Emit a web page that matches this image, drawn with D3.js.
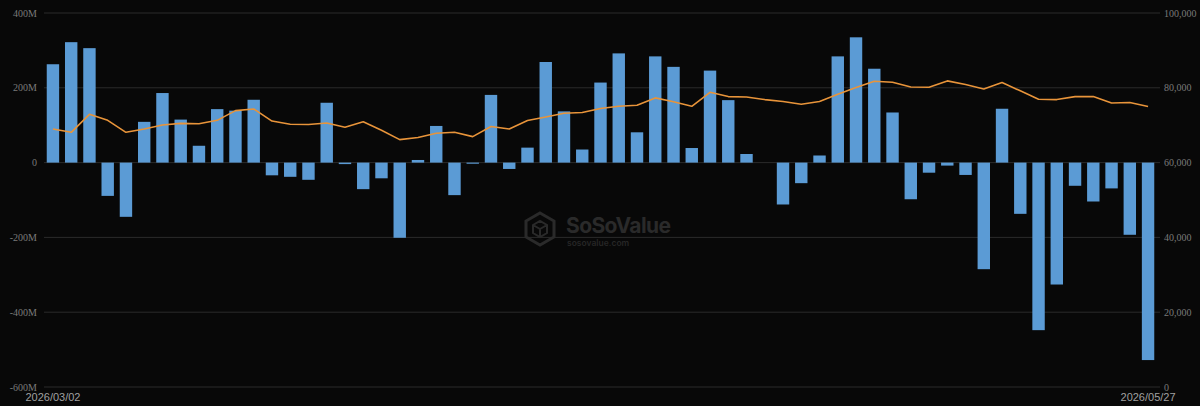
<!DOCTYPE html>
<html><head><meta charset="utf-8">
<script src="https://cdn.jsdelivr.net/npm/d3@7"></script>
<style>
html,body{margin:0;padding:0;background:#080808;}
svg{display:block;}
</style></head>
<body>
<svg id="chart" width="1200" height="406"></svg>
<script>
const dates = ["2026/03/02","2026/03/03","2026/03/04","2026/03/05","2026/03/06","2026/03/09","2026/03/10","2026/03/11","2026/03/12","2026/03/13","2026/03/16","2026/03/17","2026/03/18","2026/03/19","2026/03/20","2026/03/23","2026/03/24","2026/03/25","2026/03/26","2026/03/27","2026/03/30","2026/03/31","2026/04/01","2026/04/02","2026/04/06","2026/04/07","2026/04/08","2026/04/09","2026/04/10","2026/04/13","2026/04/14","2026/04/15","2026/04/16","2026/04/17","2026/04/20","2026/04/21","2026/04/22","2026/04/23","2026/04/24","2026/04/27","2026/04/28","2026/04/29","2026/04/30","2026/05/01","2026/05/04","2026/05/05","2026/05/06","2026/05/07","2026/05/08","2026/05/11","2026/05/12","2026/05/13","2026/05/14","2026/05/15","2026/05/18","2026/05/19","2026/05/20","2026/05/21","2026/05/22","2026/05/26","2026/05/27"];
// daily net inflow (USD millions)
const netInflow = [263,322,306,-89,-145,109,186,115,45,143,139,168,-34,-38,-46,160,-4,-71,-42,-201,7,98,-87,-3,181,-17,40,269,137,35,214,292,81,284,256,39,246,167,23,0,-112,-55,19,284,335,251,134,-98,-27,-8,-33,-285,144,-137,-448,-326,-62,-104,-69,-193,-528];
// BTC price (USD)
const btcPrice = [69000,68100,72900,71300,68100,69000,70070,70500,70400,71300,73900,74350,71100,70250,70170,70600,69450,70900,68650,66150,66700,67850,68100,66950,69650,69000,71250,72200,73200,73400,74450,75050,75350,77300,76250,75050,78800,77650,77550,76850,76350,75600,76350,78300,80100,81750,81500,80200,80150,81850,80880,79700,81400,79200,76950,76850,77650,77650,75950,76050,75000];
const leftTicks = [400,200,0,-200,-400,-600];
const rightTicks = [100000,80000,60000,40000,20000,0];
const dateLabels = ["2026/03/02","2026/05/27"];

(function () {
const svg = d3.select("#chart");
const W = 1200, H = 406;
const plotL = 44, plotR = 1160, plotTop = 13, plotBottom = 387;

const x = d3.scaleBand().domain(dates).range([plotL, 1157]).paddingInner(0.32).paddingOuter(0.15);
const yL = d3.scaleLinear().domain([-600, 400]).range([plotBottom, plotTop]);
const yR = d3.scaleLinear().domain([0, 100000]).range([plotBottom, plotTop]);

svg.append("rect").attr("width", W).attr("height", H).attr("fill", "#080808");

// grid
svg.append("g").selectAll("line").data(leftTicks).join("line")
  .attr("x1", plotL).attr("x2", plotR)
  .attr("y1", d => yL(d)).attr("y2", d => yL(d))
  .attr("stroke", "#2b2b2b").attr("stroke-width", 1);

// watermark
const wm = svg.append("g").attr("fill", "none");
wm.append("path")
  .attr("d", "M540,213 L554,221 L554,237 L540,245 L526,237 L526,221 Z")
  .attr("stroke", "#2a2a2a").attr("stroke-width", 3);
wm.append("path")
  .attr("d", "M533,225 L540,221 L547,225 L547,233 L540,237 L533,233 Z M540,229 L547,225 M540,229 L540,237 M540,229 L533,225")
  .attr("stroke", "#2a2a2a").attr("stroke-width", 2);
svg.append("text").attr("x", 566).attr("y", 233)
  .attr("font-family", "Inter, 'Noto Sans', sans-serif").attr("font-weight", 700)
  .attr("font-size", 21).attr("fill", "#2a2a2a").attr("textLength", 105).text("SoSoValue");
svg.append("text").attr("x", 567).attr("y", 246)
  .attr("font-family", "Inter, 'Noto Sans', sans-serif").attr("font-weight", 600)
  .attr("font-size", 8.5).attr("fill", "#262626").text("sosovalue.com");

// bars
svg.append("g").selectAll("rect").data(netInflow).join("rect")
  .attr("x", (d, i) => x(dates[i]))
  .attr("width", x.bandwidth())
  .attr("y", d => yL(Math.max(0, d)))
  .attr("height", d => Math.abs(yL(d) - yL(0)))
  .attr("fill", "#5b9bd5");

// line
const line = d3.line()
  .x((d, i) => x(dates[i]) + x.bandwidth() / 2)
  .y(d => yR(d));
svg.append("path").datum(btcPrice)
  .attr("d", line)
  .attr("fill", "none")
  .attr("stroke", "#e8943a")
  .attr("stroke-width", 1.6)
  .attr("stroke-linejoin", "round");

// left axis labels
svg.append("g").selectAll("text").data(leftTicks).join("text")
  .attr("x", 37).attr("y", d => yL(d)).attr("dy", "0.35em")
  .attr("text-anchor", "end")
  .attr("font-family", "'Liberation Serif', 'DejaVu Serif', serif")
  .attr("font-size", 10).attr("fill", "#7a7a7a")
  .text(d => d === 0 ? "0" : d + "M");

// right axis labels
const fmt = d3.format(",");
svg.append("g").selectAll("text").data(rightTicks).join("text")
  .attr("x", 1164).attr("y", d => yR(d)).attr("dy", "0.35em")
  .attr("text-anchor", "start")
  .attr("font-family", "'Liberation Serif', 'DejaVu Serif', serif")
  .attr("font-size", 10).attr("fill", "#7a7a7a")
  .text(d => fmt(d));

// date labels
svg.append("g").selectAll("text").data(dateLabels).join("text")
  .attr("x", d => x(d) + x.bandwidth() / 2).attr("y", 397).attr("dy", "0.35em")
  .attr("text-anchor", "middle")
  .attr("font-family", "'Liberation Sans', Arial, sans-serif")
  .attr("font-size", 11).attr("fill", "#a0a0a0")
  .text(d => d);
})();
</script>
</body></html>
